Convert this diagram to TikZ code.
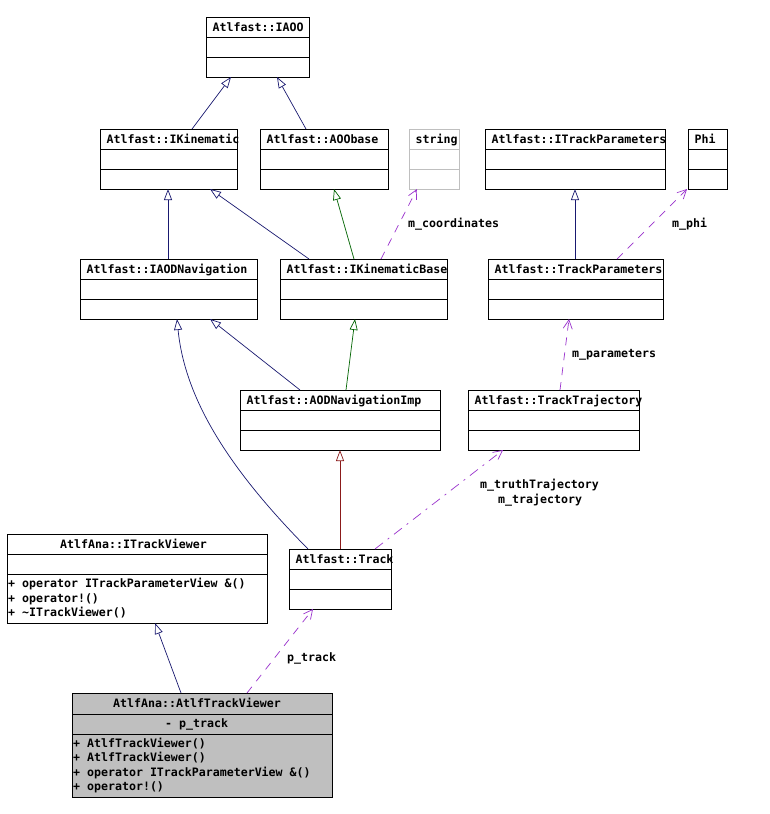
\documentclass[tikz,border=0pt]{standalone}
\usepackage{fontspec}
\newfontfamily\monof{DejaVu Sans Mono}
\usetikzlibrary{arrows.meta}
\definecolor{navy}{HTML}{191970}
\definecolor{dgreen}{HTML}{006400}
\definecolor{fbrick}{HTML}{8B1A1A}
\definecolor{purp}{HTML}{9A32CD}
\definecolor{greyfill}{HTML}{BFBFBF}
\tikzset{
  clsbox/.style={draw, line width=0.9pt, inner sep=0pt, outer sep=0pt, anchor=north west, fill=white},
  divl/.style={line width=0.9pt},
  lbl/.style={font=\monof\bfseries\fontsize{11.6}{13}\selectfont, inner sep=0pt, anchor=base west},
  inh/.style={-{Triangle[open,length=11pt,width=8pt,fill=white]}, line width=0.7pt},
  dep/.style={-{Straight Barb[length=9pt,width=9pt]}, draw=purp, dash pattern=on 8pt off 7pt, line width=0.7pt},
}
\newcommand\umlcls[7]{%
  \node[clsbox, minimum width=#4pt, minimum height=#5pt, #6] (#1) at (#2,#3) {};
  \draw[divl, #6] ([yshift=-20pt]#1.north west) -- ([yshift=-20pt]#1.north east);
  \draw[divl, #6] ([yshift=-40pt]#1.north west) -- ([yshift=-40pt]#1.north east);
  \node[lbl] (#1-t) at ({#2+6.5},{#3+14}) {#7};
}
\begin{document}
\begin{tikzpicture}[x=1pt,y=-1pt]
\useasboundingbox[fill=white] (0,0) rectangle (769,814);

% classes
\umlcls{iaoo}{206}{17}{103}{60}{}{Atlfast::IAOO}
\umlcls{ikin}{100}{129}{137}{60}{}{Atlfast::IKinematic}
\umlcls{aoobase}{260}{129}{128}{60}{}{Atlfast::AOObase}
\umlcls{string}{409}{129}{50}{60}{draw=greyfill}{string}
\umlcls{itrackpar}{485}{129}{180}{60}{}{Atlfast::ITrackParameters}
\umlcls{phi}{688}{129}{39}{60}{}{Phi}
\umlcls{iaodnav}{80}{259}{177}{60}{}{Atlfast::IAODNavigation}
\umlcls{ikinbase}{280}{259}{167}{60}{}{Atlfast::IKinematicBase}
\umlcls{trackpar}{488}{259}{175}{60}{}{Atlfast::TrackParameters}
\umlcls{aodnavimp}{240}{390}{200}{60}{}{Atlfast::AODNavigationImp}
\umlcls{tracktraj}{468}{390}{171}{60}{}{Atlfast::TrackTrajectory}
\umlcls{track}{289}{549}{102}{60}{}{Atlfast::Track}

% AtlfAna::ITrackViewer
\node[clsbox, minimum width=260pt, minimum height=89pt] (itv) at (7,534) {};
\draw[divl] ([yshift=-20pt]itv.north west) -- ([yshift=-20pt]itv.north east);
\draw[divl] ([yshift=-40pt]itv.north west) -- ([yshift=-40pt]itv.north east);
\node[lbl] (itv-t) at (60,548) {AtlfAna::ITrackViewer};
\node[lbl] (itv-m1) at (8,587.5) {+ operator ITrackParameterView \&()};
\node[lbl] (itv-m2) at (8,602.5) {+ operator!()};
\node[lbl] (itv-m3) at (8,616.5) {+ \textasciitilde ITrackViewer()};

% AtlfAna::AtlfTrackViewer
\node[clsbox, fill=greyfill, minimum width=260pt, minimum height=104pt] (atv) at (72,693) {};
\draw[divl] ([yshift=-21pt]atv.north west) -- ([yshift=-21pt]atv.north east);
\draw[divl] ([yshift=-41pt]atv.north west) -- ([yshift=-41pt]atv.north east);
\node[lbl] (atv-t) at (113,707.5) {AtlfAna::AtlfTrackViewer};
\node[lbl] (atv-a) at (165,727) {- p\_track};
\node[lbl] (atv-m1) at (73,747.5) {+ AtlfTrackViewer()};
\node[lbl] (atv-m2) at (73,761.5) {+ AtlfTrackViewer()};
\node[lbl] (atv-m3) at (73,776) {+ operator ITrackParameterView \&()};
\node[lbl] (atv-m4) at (73,790) {+ operator!()};

% inheritance edges
\draw[inh, navy] ([xshift=92pt]ikin.north west) -- ([xshift=25pt]iaoo.south west);
\draw[inh, navy] ([xshift=46pt]aoobase.north west) -- ([xshift=71pt]iaoo.south west);
\draw[inh, navy] ([xshift=88pt]iaodnav.north west) -- ([xshift=68pt]ikin.south west);
\draw[inh, navy] ([xshift=29pt]ikinbase.north west) -- ([xshift=110pt]ikin.south west);
\draw[inh, dgreen] ([xshift=74pt]ikinbase.north west) -- ([xshift=74pt]aoobase.south west);
\draw[inh, navy] ([xshift=87pt]trackpar.north west) -- ([xshift=90pt]itrackpar.south west);
\draw[inh, navy] ([xshift=60pt]aodnavimp.north west) -- ([xshift=130pt]iaodnav.south west);
\draw[inh, dgreen] ([xshift=106pt]aodnavimp.north west) -- ([xshift=75pt]ikinbase.south west);
\draw[inh, navy] ([xshift=19pt]track.north west) .. controls (230,470) and (185,400) .. ([xshift=97pt]iaodnav.south west);
\draw[inh, fbrick] ([xshift=51pt]track.north west) -- ([xshift=100pt]aodnavimp.south west);
\draw[inh, navy] ([xshift=109pt]atv.north west) -- ([xshift=148pt]itv.south west);

% usage edges
\draw[dep] ([xshift=101pt]ikinbase.north west) -- ([xshift=8pt]string.south west);
\node[lbl] (lc) at (408,227) {m\_coordinates};
\draw[dep] ([xshift=129pt]trackpar.north west) -- ([xshift=-1pt]phi.south west);
\node[lbl] (lphi) at (672,227) {m\_phi};
\draw[dep] ([xshift=92pt]tracktraj.north west) -- ([xshift=81pt]trackpar.south west);
\node[lbl] (lpar) at (572,357) {m\_parameters};
\draw[dep, dash pattern=on 10pt off 6pt on 2pt off 6pt] ([xshift=86pt]track.north west) -- ([xshift=35pt]tracktraj.south west);
\node[lbl] (ltt) at (480,488) {m\_truthTrajectory};
\node[lbl] (ltr) at (498,503) {m\_trajectory};
\draw[dep] ([xshift=175pt]atv.north west) -- ([xshift=24pt]track.south west);
\node[lbl] (lpt) at (287,661) {p\_track};
\end{tikzpicture}
\end{document}
